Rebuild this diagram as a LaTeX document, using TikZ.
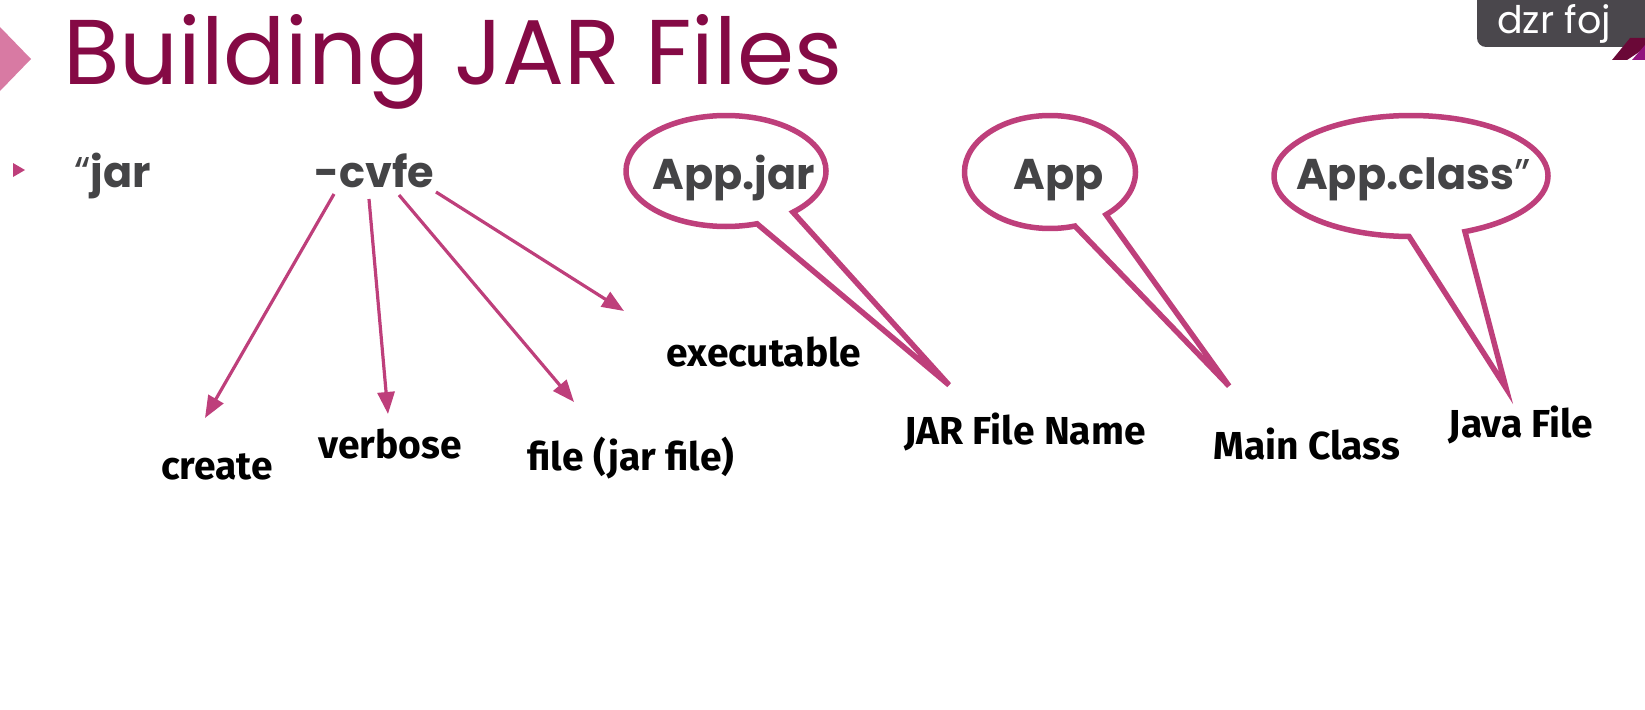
\documentclass[tikz,border=0pt]{standalone}
\usepackage{fontspec}
\usetikzlibrary{arrows.meta,shapes.callouts}
\newfontfamily\titlefont{Poppins}
\newfontfamily\codefont{Poppins}
\newfontfamily\labelfont{Fira Sans}
\definecolor{plum}{HTML}{850A45}
\definecolor{rose}{HTML}{BE3F7B}
\definecolor{petal}{HTML}{D87AA3}
\definecolor{slate}{HTML}{444446}
\definecolor{badge}{HTML}{4A474C}

\begin{document}
\begin{tikzpicture}[x=1pt,y=-1pt,
 code/.style={font=\codefont\bfseries\fontsize{43}{45}\selectfont,text=slate,inner sep=0pt},
 tag/.style={font=\labelfont\bfseries\fontsize{39}{42}\selectfont,text=black,inner sep=0pt,anchor=base},
 bubble/.style={ellipse callout,draw=rose,fill=white,line width=5.5pt,inner sep=0pt,callout pointer arc=24},
 flow/.style={-{Triangle[length=22pt,width=17pt]},draw=rose,line width=3.2pt}]
\path[use as bounding box] (0,0) rectangle (1645,709);
\clip (0,0) rectangle (1645,709);
% title bar
\fill[petal] (0,27) -- (31,59) -- (0,91) -- cycle;
\node[font=\titlefont\fontsize{92}{94}\selectfont,text=plum,anchor=base west,inner sep=0pt]
 (title) at (63,84) {Building JAR Files};
% watermark badge
\fill[badge,rounded corners=9pt] (1477,-20) rectangle (1700,47);
\fill[plum!80!black] (1612,60) -- (1630,38) -- (1645,38) -- (1645,48) -- (1627,60) -- cycle;
\fill[violet!70!rose] (1632,60) -- (1645,45) -- (1645,60) -- cycle;
\node[font=\titlefont\fontsize{38}{40}\selectfont,text=white,anchor=base west,inner sep=0pt]
 (mark) at (1497,34) {dzr foj};
% command line
\fill[rose] (13,163) -- (25,170) -- (13,177) -- cycle;
\node[code,anchor=base west] (jar) at (74,187) {{\mdseries“}jar};
\node[code,anchor=base west] (cvfe) at (314,187) {-cvfe};
% speech bubbles
\node[bubble,minimum width=200,minimum height=111,callout absolute pointer={(949,385)}]
 (bubJar) at (726,171) {};
\node[bubble,minimum width=171,minimum height=113,callout absolute pointer={(1229,386)}]
 (bubApp) at (1050,172) {};
\node[bubble,minimum width=274,minimum height=121,callout absolute pointer={(1506,388)}]
 (bubClass) at (1411,176) {};
\node[code,anchor=base] (tJar) at (734,189) {App.jar};
\node[code,anchor=base] (tApp) at (1059,189) {App};
\node[code,anchor=base west] (tClass) at (1296,189) {App.class{\mdseries”}};
% option labels
\node[tag] (create) at (217,479) {create};
\node[tag] (verbose) at (390,458) {verbose};
\node[tag] (file) at (631,470) {file (jar file)};
\node[tag] (exec) at (764,366) {executable};
\node[tag] (jarname) at (1025,444) {JAR File Name};
\node[tag] (mainclass) at (1307,459) {Main Class};
\node[tag] (javafile) at (1521,437) {Java File};
% arrows from the flags
\coordinate (fc) at (334,194);
\coordinate (fv) at (369,199);
\coordinate (ff) at (399,195);
\coordinate (fe) at (436,192);
\coordinate (ec) at (205,418);
\coordinate (ev) at (388,414);
\coordinate (ef) at (574,402);
\coordinate (ee) at (624,311);
\draw[flow] (fc) -- (ec);
\draw[flow] (fv) -- (ev);
\draw[flow] (ff) -- (ef);
\draw[flow] (fe) -- (ee);
\end{tikzpicture}
\end{document}
